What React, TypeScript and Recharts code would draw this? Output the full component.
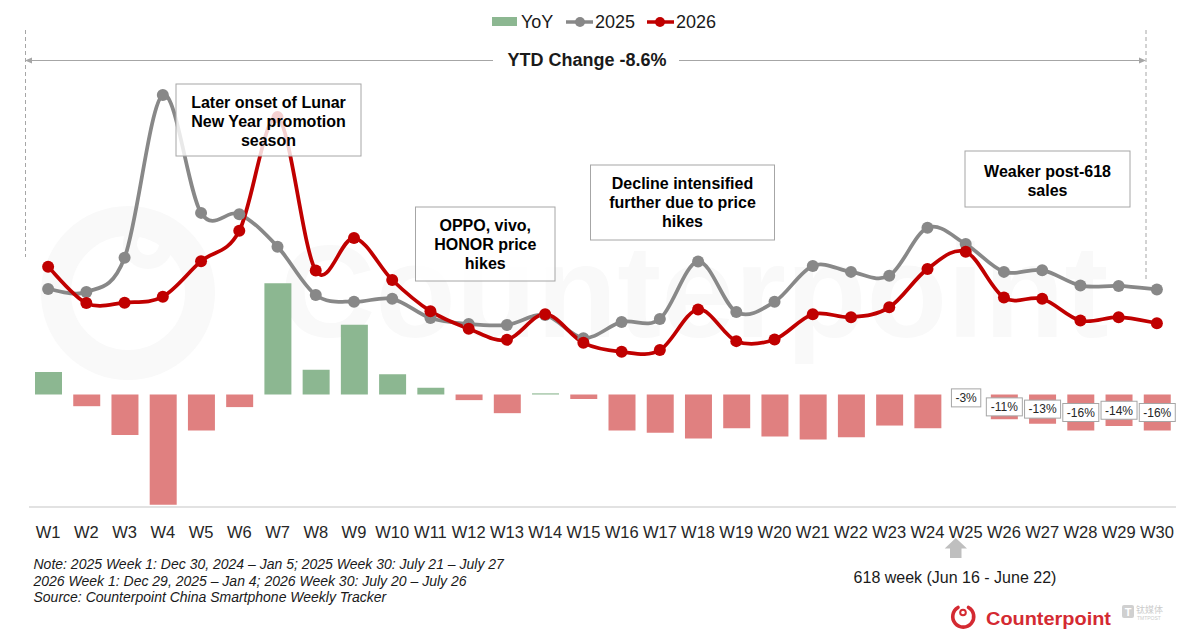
import * as React from "react";
import {
  ComposedChart,
  Bar,
  Line,
  XAxis,
  YAxis,
  Cell,
  LabelList,
} from "recharts";

const weeks = [
  "W1", "W2", "W3", "W4", "W5", "W6", "W7", "W8", "W9", "W10",
  "W11", "W12", "W13", "W14", "W15", "W16", "W17", "W18", "W19", "W20",
  "W21", "W22", "W23", "W24", "W25", "W26", "W27", "W28", "W29", "W30",
];

// weekly sell-through, index units
const sales2025 = [
  5.10, 5.03, 5.83, 9.64, 6.88, 6.85, 6.09, 4.96, 4.80, 4.87,
  4.42, 4.28, 4.26, 4.49, 3.95, 4.33, 4.40, 5.74, 4.56, 4.80,
  5.64, 5.50, 5.41, 6.53, 6.15, 5.50, 5.54, 5.18, 5.17, 5.09,
];
const sales2026 = [
  5.62, 4.77, 4.78, 4.92, 5.75, 6.46, 9.12, 5.53, 6.29, 5.31,
  4.58, 4.17, 3.91, 4.51, 3.84, 3.63, 3.67, 4.62, 3.88, 3.92,
  4.51, 4.44, 4.67, 5.57, 5.97, 4.90, 4.87, 4.36, 4.44, 4.30,
];

// YoY change, %
const yoy = [
  10, -5.2, -18, -49, -16, -5.6, 49.5, 11, 31, 9,
  3, -2.5, -8.3, 0.5, -2, -16, -17, -19.5, -15, -18.7,
  -20, -19, -13.8, -15, -3, -11, -13, -16, -14, -16,
];

const labelledWeeks = ["W25", "W26", "W27", "W28", "W29", "W30"];

const notes = [
  "Note: 2025 Week 1: Dec 30, 2024 \u2013 Jan 5; 2025 Week 30: July 21 \u2013 July 27",
  "2026 Week 1: Dec 29, 2025 \u2013 Jan 4; 2026 Week 30: July 20 \u2013 July 26",
  "Source: Counterpoint China Smartphone Weekly Tracker",
];

const callouts = [
  { lines: ["Later onset of Lunar", "New Year promotion", "season"], x: 176, y: 84, w: 185, h: 72, base: 108.3 },
  { lines: ["OPPO, vivo,", "HONOR price", "hikes"], x: 415.5, y: 207, w: 139.5, h: 74, base: 231 },
  { lines: ["Decline intensified", "further due to price", "hikes"], x: 590.5, y: 165, w: 184, h: 75, base: 189.3 },
  { lines: ["Weaker post-618", "sales"], x: 965, y: 151, w: 165, h: 56, base: 176.7 },
];

const data = weeks.map((week, i) => ({
  week,
  yoy: yoy[i],
  s2025: sales2025[i],
  s2026: sales2026[i],
  yoyLabel: labelledWeeks.includes(week) ? yoy[i] : null,
}));

const FONT = "'Liberation Sans', Arial, sans-serif";
const GREEN = "#8cb791";
const PINK = "#e08080";
const GREY_LINE = "#888888";
const RED_LINE = "#c00000";

// Excel-like smoothed line (Catmull-Rom through the points)
function excelSmooth(context: any) {
  let pts: number[][] = [];
  return {
    areaStart() {},
    areaEnd() {},
    lineStart() {
      pts = [];
    },
    point(x: number, y: number) {
      pts.push([+x, +y]);
    },
    lineEnd() {
      const n = pts.length;
      if (!n) return;
      context.moveTo(pts[0][0], pts[0][1]);
      const k = 1 / 6;
      for (let i = 0; i < n - 1; i++) {
        const p0 = pts[Math.max(0, i - 1)];
        const p1 = pts[i];
        const p2 = pts[i + 1];
        const p3 = pts[Math.min(n - 1, i + 2)];
        context.bezierCurveTo(
          p1[0] + (p2[0] - p0[0]) * k,
          p1[1] + (p2[1] - p0[1]) * k,
          p2[0] - (p3[0] - p1[0]) * k,
          p2[1] - (p3[1] - p1[1]) * k,
          p2[0],
          p2[1]
        );
      }
    },
  };
}

const charW: Record<string, number> = { "-": 4, "%": 10.67 };

function YoyLabel(props: any) {
  const { x, y, width, height, value } = props;
  if (value === null || value === undefined) return null;
  const text = `${Math.round(Number(value))}%`;
  const tw = text.split("").reduce((s, c) => s + (charW[c] ?? 6.67), 0);
  const bw = tw + 8;
  const cx = Number(x) + Number(width) / 2;
  const cy = Number(y) + Number(height) / 2;
  return (
    <g>
      <rect x={cx - bw / 2} y={cy - 9} width={bw} height={18} fill="#fff" stroke="#a6a6a6" strokeWidth={1} />
      <text x={cx} y={cy + 4.3} textAnchor="middle" fontSize={12} fontFamily={FONT} fill="#262626">
        {text}
      </text>
    </g>
  );
}

function Watermark() {
  return (
    <svg width={1194} height={643} style={{ position: "absolute", left: 0, top: 0 }}>
      <circle cx={128} cy={293} r={72} fill="none" stroke="#f9f9f9" strokeWidth={30} />
      <circle cx={148} cy={244} r={18} fill="none" stroke="#f9f9f9" strokeWidth={14} />
      <text x={280} y={337} fontSize={132} fontWeight="bold" fontFamily={FONT} fill="#f9f9f9">
        Counterpoint
      </text>
    </svg>
  );
}

function Overlay() {
  return (
    <svg width={1194} height={643} style={{ position: "absolute", left: 0, top: 0, pointerEvents: "none" }}>
      {/* legend */}
      <g fontFamily={FONT} fontSize={18} fill="#1a1a1a">
        <rect x={492} y={17} width={25} height={9} fill={GREEN} />
        <text x={521} y={28}>YoY</text>
        <line x1={566} x2={593} y1={22} y2={22} stroke={GREY_LINE} strokeWidth={3.5} />
        <circle cx={580} cy={22} r={5} fill={GREY_LINE} />
        <text x={595} y={28}>2025</text>
        <line x1={647} x2={674} y1={22} y2={22} stroke={RED_LINE} strokeWidth={3.5} />
        <circle cx={660} cy={22} r={5} fill={RED_LINE} />
        <text x={676} y={28}>2026</text>
      </g>

      {/* YTD bracket */}
      <g stroke="#a6a6a6" strokeWidth={1}>
        <line x1={25.5} x2={25.5} y1={30} y2={257} strokeDasharray="4 3" />
        <line x1={1146} x2={1146} y1={30} y2={279} strokeDasharray="4 3" />
        <line x1={27} x2={493} y1={60.5} y2={60.5} />
        <line x1={679} x2={1144} y1={60.5} y2={60.5} />
      </g>
      <polygon points="25,60.5 32,57.5 32,63.5" fill="#a6a6a6" />
      <polygon points="1146,60.5 1139,57.5 1139,63.5" fill="#a6a6a6" />
      <text x={587} y={66} textAnchor="middle" fontSize={18} fontWeight="bold" fontFamily={FONT} fill="#1a1a1a">
        YTD Change -8.6%
      </text>

      {/* callouts */}
      {callouts.map((c, i) => (
        <g key={i}>
          <rect x={c.x} y={c.y} width={c.w} height={c.h} fill="rgba(255,255,255,0.82)" stroke="#a6a6a6" strokeWidth={1} />
          {c.lines.map((l, j) => (
            <text
              key={j}
              x={c.x + c.w / 2}
              y={c.base + j * 19}
              textAnchor="middle"
              fontSize={16}
              fontWeight="bold"
              fontFamily={FONT}
              fill="#000"
            >
              {l}
            </text>
          ))}
        </g>
      ))}

      {/* 618 week marker */}
      <polygon
        points="955.8,538 967,548.5 961.5,548.5 961.5,558 950,558 950,548.5 944.7,548.5"
        fill="#bfbfbf"
      />
      <text x={955} y={583} textAnchor="middle" fontSize={16} fontFamily={FONT} fill="#1a1a1a">
        618 week (Jun 16 - June 22)
      </text>

      {/* notes */}
      {notes.map((n, i) => (
        <text key={i} x={33.5} y={569 + i * 16.5} fontSize={14} fontStyle="italic" fontFamily={FONT} fill="#1a1a1a">
          {n}
        </text>
      ))}

      {/* brand */}
      <path
        d="M 968.5 607.5 A 10.5 10.5 0 1 1 958 607.5"
        fill="none"
        stroke="#d42a32"
        strokeWidth={3.6}
        strokeLinecap="round"
      />
      <circle cx={963} cy={612.5} r={2.8} fill="none" stroke="#d42a32" strokeWidth={2} />
      <text
        x={986}
        y={625}
        fontSize={19}
        fontWeight="bold"
        fontFamily={FONT}
        fill="#d42a32"
        textLength={125}
        lengthAdjust="spacingAndGlyphs"
      >
        Counterpoint
      </text>
      <rect x={1122} y={605} width={12} height={13} rx={2} fill="#d0d0d0" />
      <text x={1128} y={615.5} textAnchor="middle" fontSize={11} fontWeight="bold" fontFamily={FONT} fill="#fff">
        T
      </text>
      <text x={1136} y={613} fontSize={9} fontFamily="'Noto Sans CJK SC', sans-serif" fill="#cccccc">
        钛媒体
      </text>
      <text x={1137} y={619.5} fontSize={5} fontFamily={FONT} fill="#cccccc">
        TMTPOST
      </text>
    </svg>
  );
}

export default function App() {
  return (
    <div
      style={{
        position: "absolute",
        left: 0,
        top: 0,
        width: 1194,
        height: 643,
        background: "#fff",
        overflow: "hidden",
      }}
    >
      <Watermark />
      <div style={{ position: "absolute", left: 0, top: 0 }}>
        <ComposedChart
          width={1194}
          height={643}
          data={data}
          margin={{ top: 79.5, right: 18, bottom: 106, left: 29 }}
        >
          <XAxis
            dataKey="week"
            height={30}
            tickLine={false}
            axisLine={{ stroke: "#d9d9d9", strokeWidth: 1.5 }}
            tick={{ fill: "#262626", fontSize: 16.5, fontFamily: FONT }}
            tickMargin={13}
            interval={0}
          />
          <YAxis yAxisId="yoy" hide domain={[-50, 140]} />
          <YAxis yAxisId="sales" hide domain={[0, 10]} />
          <Bar yAxisId="yoy" dataKey="yoy" barSize={27} isAnimationActive={false}>
            {data.map((d) => (
              <Cell key={d.week} fill={d.yoy >= 0 ? GREEN : PINK} />
            ))}
            <LabelList dataKey="yoyLabel" content={<YoyLabel />} />
          </Bar>
          <Line
            yAxisId="sales"
            dataKey="s2025"
            type={excelSmooth as any}
            stroke={GREY_LINE}
            strokeWidth={3.75}
            dot={{ r: 6, fill: GREY_LINE, stroke: GREY_LINE, strokeWidth: 0 }}
            activeDot={false}
            isAnimationActive={false}
          />
          <Line
            yAxisId="sales"
            dataKey="s2026"
            type={excelSmooth as any}
            stroke={RED_LINE}
            strokeWidth={3.75}
            dot={{ r: 6, fill: RED_LINE, stroke: RED_LINE, strokeWidth: 0 }}
            activeDot={false}
            isAnimationActive={false}
          />
        </ComposedChart>
      </div>
      <Overlay />
    </div>
  );
}
